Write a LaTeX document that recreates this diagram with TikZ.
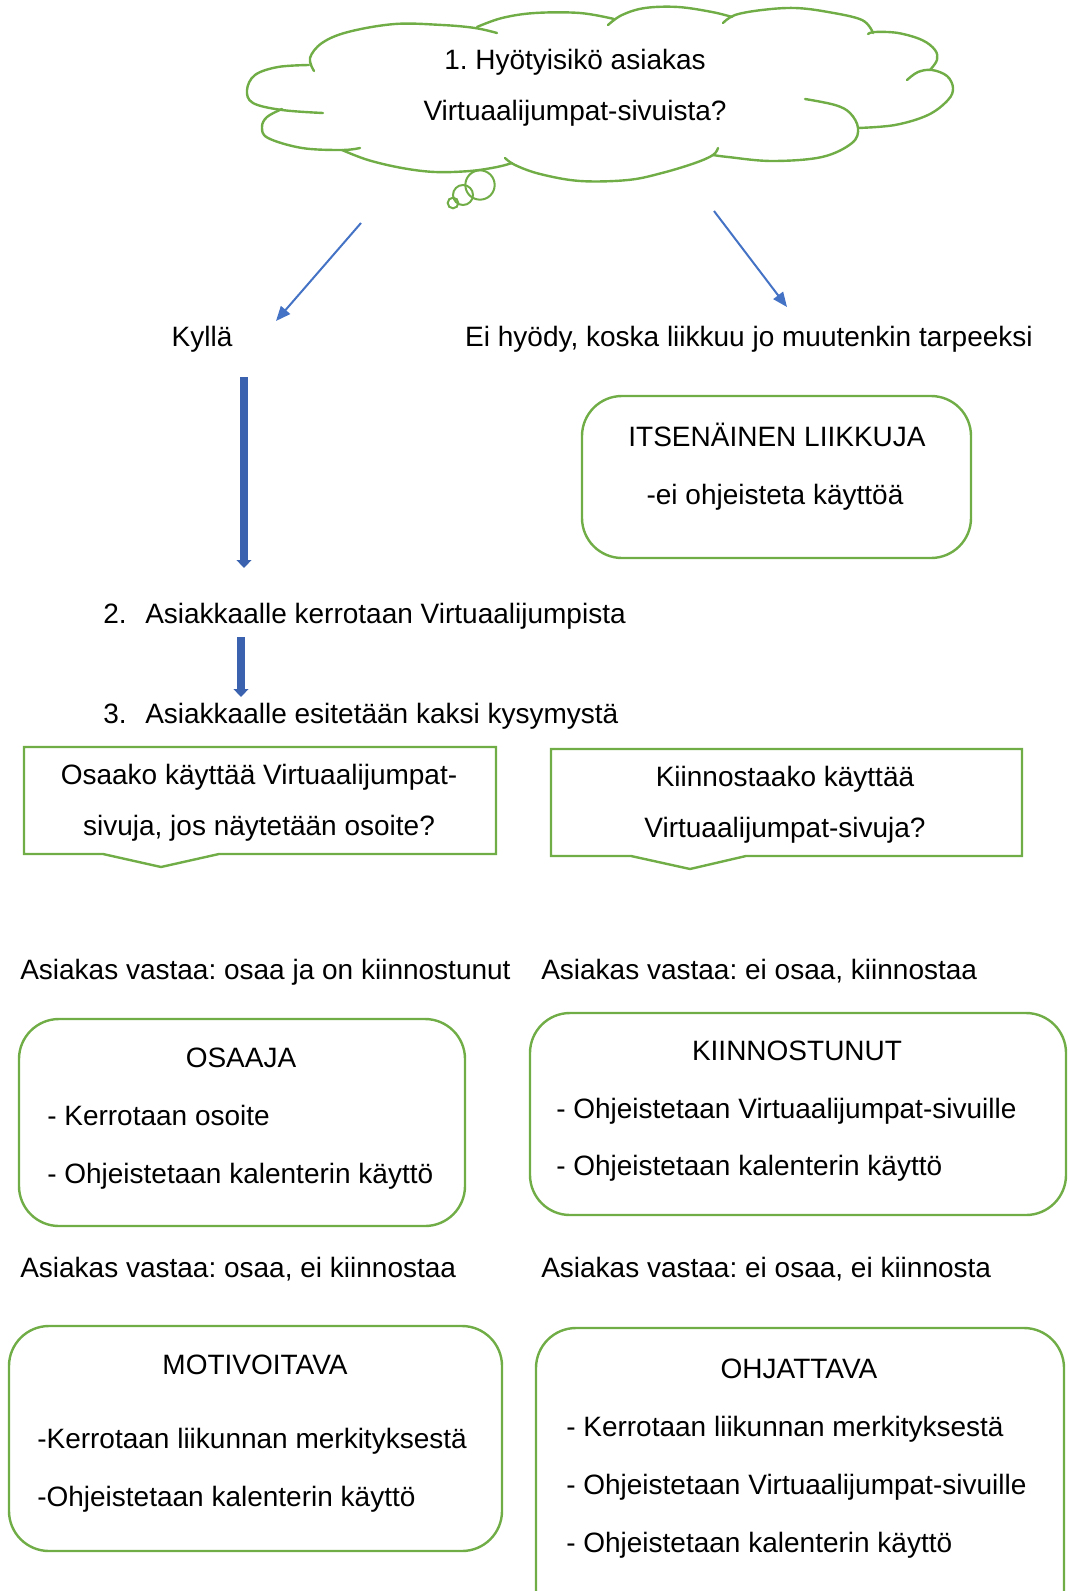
\documentclass[tikz,border=0pt]{standalone}
\usepackage{fontspec}
\setmainfont{Liberation Sans}
\frenchspacing
\usetikzlibrary{arrows.meta,fit}
\definecolor{ofgreen}{HTML}{70AD47}
\definecolor{ofblue}{HTML}{4472C4}
\definecolor{ofdarkblue}{HTML}{3A62AE}

\begin{document}
\begin{tikzpicture}[x=0.75pt,y=-0.75pt,
    txt/.style={font=\fontsize{21}{25}\selectfont,inner sep=0pt,anchor=base},
    txtl/.style={txt,anchor=base west},
    box/.style={draw=ofgreen,line width=1.8pt,rounded corners=30pt,inner sep=0pt},
    callout/.style={draw=ofgreen,line width=1.8pt},
    puff/.style={draw=ofgreen,line width=1.8pt,line cap=round},
    bubble/.style={circle,draw=ofgreen,line width=1.5pt,inner sep=0pt},
    thinarrow/.style={draw=ofblue,line width=1.5pt,-{Triangle[length=11pt,width=9pt]}},
    blockarrow/.style={draw=ofdarkblue,line width=5.4pt,-{Triangle[length=6pt,width=11pt]}}]
  \useasboundingbox (0,0) rectangle (1067,1591);

  % question 1, thought cloud
  \draw[puff] plot[smooth,tension=0.6] coordinates {(314,71) (310,58) (322,43) (348,32) (395,24) (442,25) (475,28) (497,33)};
  \draw[puff] plot[smooth,tension=0.6] coordinates {(309,65) (278,67) (255,75) (247,90) (253,103) (282,110) (323,113)};
  \draw[puff] plot[smooth,tension=0.6] coordinates {(282,109) (267,117) (262,127) (268,138) (302,148) (342,150) (360,148)};
  \draw[puff] plot[smooth,tension=0.6] coordinates {(342,150) (368,160) (402,168) (435,172) (470,171) (497,167) (512,163)};
  \draw[puff] plot[smooth,tension=0.6] coordinates {(505,158) (515,165) (540,174) (580,181) (628,180) (662,173) (695,163) (713,155) (718,148)};
  \draw[puff] plot[smooth,tension=0.6] coordinates {(713,155) (728,157) (772,161) (822,157) (852,143) (858,128) (850,113) (835,105) (805,99)};
  \draw[puff] plot[smooth,tension=0.6] coordinates {(858,128) (895,125) (928,115) (948,100) (953,88) (947,76) (932,70) (918,72) (907,80)};
  \draw[puff] plot[smooth,tension=0.6] coordinates {(930,70) (937,60) (935,50) (922,40) (898,33) (875,32) (868,34)};
  \draw[puff] plot[smooth,tension=0.6] coordinates {(873,33) (862,20) (828,12) (795,8) (762,10) (735,15) (723,23)};
  \draw[puff] plot[smooth,tension=0.6] coordinates {(732,17) (712,12) (678,7) (645,8) (622,15) (608,25)};
  \draw[puff] plot[smooth,tension=0.6] coordinates {(614,19) (580,13) (535,13) (502,18) (477,27)};
  \node[txt] (q1a) at (575,70) {1. Hyötyisikö asiakas};
  \node[txt] (q1b) at (575,121) {Virtuaalijumpat-sivuista?};
  \node[bubble,minimum size=22pt] (bub1) at (480,185) {};
  \node[bubble,minimum size=15pt] (bub2) at (463,195) {};
  \node[bubble,minimum size=8pt] (bub3) at (453,203) {};

  \coordinate (yesfrom) at (361,223);
  \coordinate (yesto) at (276,321);
  \coordinate (nofrom) at (714,211);
  \coordinate (noto) at (787,307);
  \draw[thinarrow] (yesfrom) -- (yesto);
  \draw[thinarrow] (nofrom) -- (noto);

  \node[txt] (kylla) at (202,346) {Kyllä};
  \node[txt] (eihyody) at (749,346) {Ei hyödy, koska liikkuu jo muutenkin tarpeeksi};

  \node[box,fit={(582,396) (971,558)}] (itsenainen) {};
  \node[txt] (itsetitle) at (777,446) {ITSENÄINEN LIIKKUJA};
  \node[txt] (itseline) at (775,504) {-ei ohjeisteta käyttöä};

  % steps 2 and 3
  \coordinate (step1a) at (244,377);
  \coordinate (step1b) at (244,568);
  \draw[blockarrow] (step1a) -- (step1b);
  \node[txtl] (step2) at (103,623) {2.\hspace{14pt}Asiakkaalle kerrotaan Virtuaalijumpista};
  \coordinate (step2a) at (241,637);
  \coordinate (step2b) at (241,697);
  \draw[blockarrow] (step2a) -- (step2b);
  \node[txtl] (step3) at (103,723) {3.\hspace{14pt}Asiakkaalle esitetään kaksi kysymystä};

  % the two questions
  \draw[callout] (24,747) -- (496,747) -- (496,854) -- (219,854) -- (161,867) -- (103,854) -- (24,854) -- cycle;
  \node[txt] (osaakoa) at (259,784) {Osaako käyttää Virtuaalijumpat-};
  \node[txt] (osaakob) at (259,835) {sivuja, jos näytetään osoite?};
  \draw[callout] (551,749) -- (1022,749) -- (1022,856) -- (746,856) -- (690,869) -- (631,856) -- (551,856) -- cycle;
  \node[txt] (kiinnoa) at (785,786) {Kiinnostaako käyttää};
  \node[txt] (kiinnob) at (785,837) {Virtuaalijumpat-sivuja?};

  % answers
  \node[txtl] (vast1) at (20,979) {Asiakas vastaa: osaa ja on kiinnostunut};
  \node[txtl] (vast2) at (541,979) {Asiakas vastaa: ei osaa, kiinnostaa};

  \node[box,fit={(19,1019) (465,1226)}] (osaaja) {};
  \node[txt] (osaajat) at (241,1067) {OSAAJA};
  \node[txtl] (osaaja1) at (47,1125) {- Kerrotaan osoite};
  \node[txtl] (osaaja2) at (47,1183) {- Ohjeistetaan kalenterin käyttö};

  \node[box,fit={(530,1013) (1066,1215)}] (kiinnostunut) {};
  \node[txt] (kiinnt) at (797,1060) {KIINNOSTUNUT};
  \node[txtl] (kiinn1) at (556,1118) {- Ohjeistetaan Virtuaalijumpat-sivuille};
  \node[txtl] (kiinn2) at (556,1175) {- Ohjeistetaan kalenterin käyttö};

  \node[txtl] (vast3) at (20,1277) {Asiakas vastaa: osaa, ei kiinnostaa};
  \node[txtl] (vast4) at (541,1277) {Asiakas vastaa: ei osaa, ei kiinnosta};

  \node[box,fit={(9,1326) (502,1551)}] (motivoitava) {};
  \node[txt] (motit) at (255,1374) {MOTIVOITAVA};
  \node[txtl] (moti1) at (37,1448) {-Kerrotaan liikunnan merkityksestä};
  \node[txtl] (moti2) at (37,1506) {-Ohjeistetaan kalenterin käyttö};

  \node[box,fit={(536,1328) (1064,1630)}] (ohjattava) {};
  \node[txt] (ohjt) at (799,1378) {OHJATTAVA};
  \node[txtl] (ohj1) at (566,1436) {- Kerrotaan liikunnan merkityksestä};
  \node[txtl] (ohj2) at (566,1494) {- Ohjeistetaan Virtuaalijumpat-sivuille};
  \node[txtl] (ohj3) at (566,1552) {- Ohjeistetaan kalenterin käyttö};
\end{tikzpicture}
\end{document}
